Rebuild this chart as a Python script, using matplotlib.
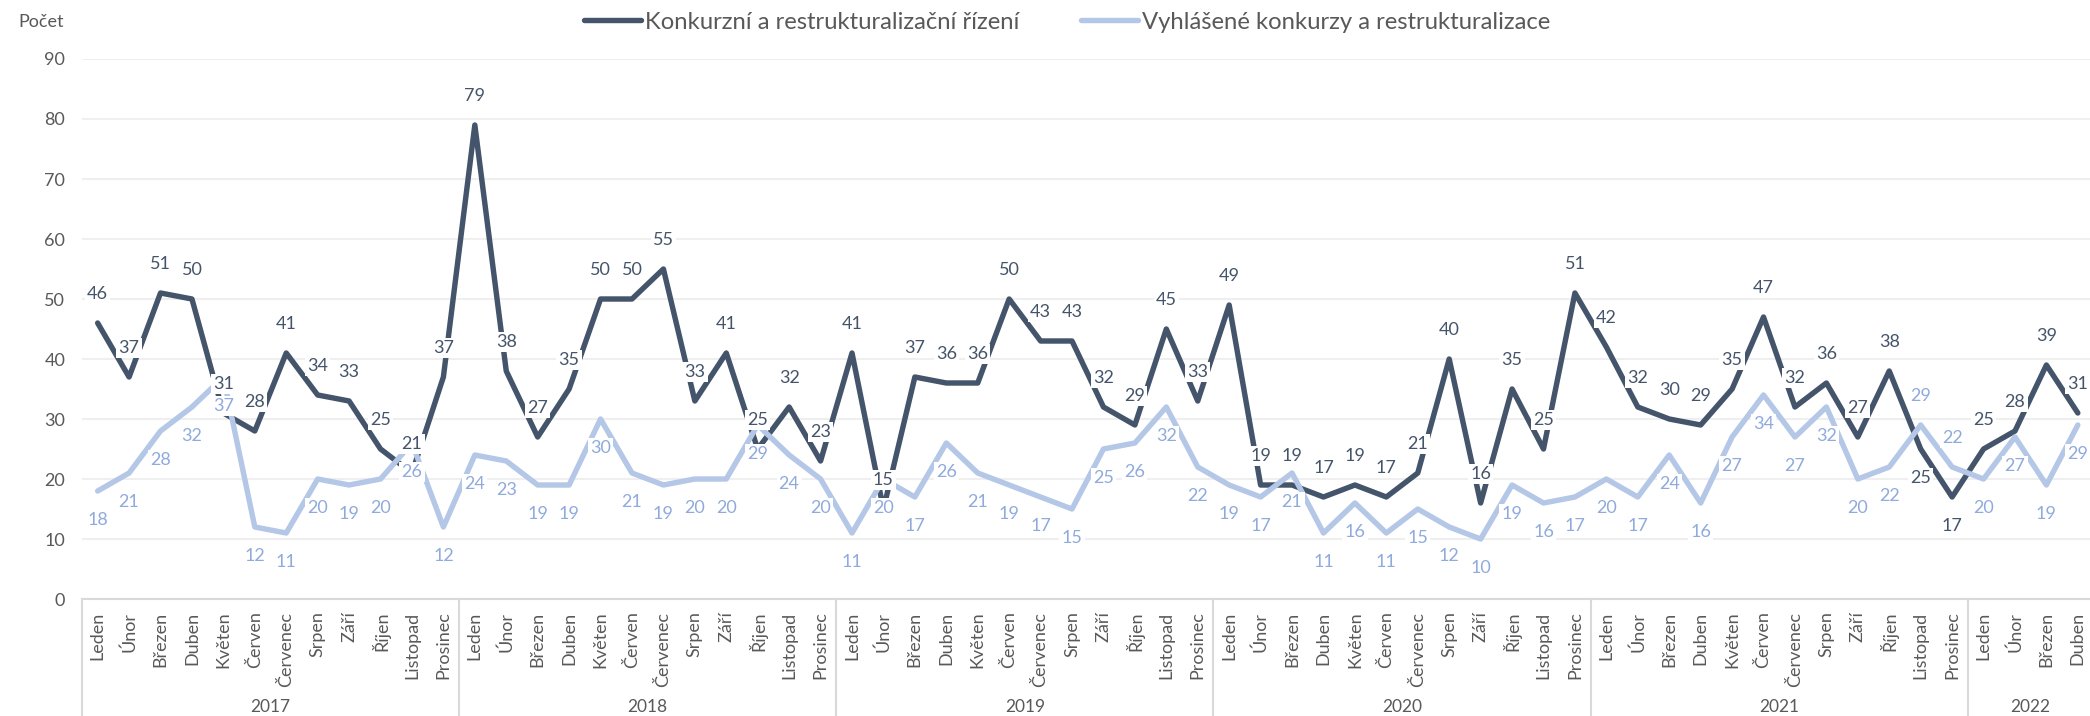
import matplotlib
matplotlib.use("Agg")
import matplotlib.pyplot as plt
import matplotlib.transforms as mtransforms
import numpy as np

plt.rcParams["font.family"] = ["Lato", "DejaVu Sans"]

months = ["Leden", "Únor", "Březen", "Duben", "Květen", "Červen", "Červenec",
          "Srpen", "Září", "Říjen", "Listopad", "Prosinec"]
years = ["2017", "2018", "2019", "2020", "2021", "2022"]
months_per_year = [12, 12, 12, 12, 12, 4]

rizeni = [46, 37, 51, 50, 31, 28, 41, 34, 33, 25, 21, 37,
          79, 38, 27, 35, 50, 50, 55, 33, 41, 25, 32, 23,
          41, 15, 37, 36, 36, 50, 43, 43, 32, 29, 45, 33,
          49, 19, 19, 17, 19, 17, 21, 40, 16, 35, 25, 51,
          42, 32, 30, 29, 35, 47, 32, 36, 27, 38, 25, 17,
          25, 28, 39, 31]
vyhlasene = [18, 21, 28, 32, 37, 12, 11, 20, 19, 20, 26, 12,
             24, 23, 19, 19, 30, 21, 19, 20, 20, 29, 24, 20,
             11, 20, 17, 26, 21, 19, 17, 15, 25, 26, 32, 22,
             19, 17, 21, 11, 16, 11, 15, 12, 10, 19, 16, 17,
             20, 17, 24, 16, 27, 34, 27, 32, 20, 22, 29, 22,
             20, 27, 19, 29]

# label placement exceptions (where the two lines cross)
dark_below = {58, 59}
light_above = {58, 59}

DARK = "#44546A"
LIGHT = "#B4C7E7"
LIGHT_TXT = "#8FAADC"
GRAY = "#595959"

tick_labels = [m for n in months_per_year for m in months[:n]]
x = np.arange(len(rizeni))

fig = plt.figure(figsize=(20.9, 7.16), dpi=100)
ax = fig.add_axes([0.0392, 0.1634, 0.9625, 0.7542])

ax.plot(x, rizeni, color=DARK, lw=3.9, solid_joinstyle="round",
        solid_capstyle="round", label="Konkurzní a restrukturalizační řízení", zorder=3)
ax.plot(x, vyhlasene, color=LIGHT, lw=3.9, solid_joinstyle="round",
        solid_capstyle="round", label="Vyhlášené konkurzy a restrukturalizace", zorder=4)

box = dict(boxstyle="square,pad=0.12", fc="white", ec="none")
for i in x:
    dy = -21 if i in dark_below else 21
    ax.annotate(str(rizeni[i]), (i, rizeni[i]), xytext=(0, dy), textcoords="offset points",
                ha="center", va="center", fontsize=13, color=DARK, bbox=box, zorder=6)
    dy = 21 if i in light_above else -21
    ax.annotate(str(vyhlasene[i]), (i, vyhlasene[i]), xytext=(0, dy), textcoords="offset points",
                ha="center", va="center", fontsize=13, color=LIGHT_TXT, bbox=box, zorder=6)

ax.set_xlim(-0.5, len(x) - 0.5)
ax.set_ylim(0, 90)
ax.set_yticks(range(0, 91, 10))
ax.yaxis.grid(True, color="#EFEFEF", lw=1.5)
ax.set_axisbelow(True)
for s in ["top", "right", "left"]:
    ax.spines[s].set_visible(False)
ax.spines["bottom"].set_color("#D9D9D9")
ax.spines["bottom"].set_linewidth(1.5)
ax.tick_params(axis="y", length=0, pad=12, labelsize=13, labelcolor=GRAY)
ax.set_xticks(x)
ax.set_xticklabels(tick_labels, rotation=90, va="top")
ax.tick_params(axis="x", length=0, pad=9, labelsize=13, labelcolor=GRAY)

# year grouping below the month labels
trans = mtransforms.blended_transform_factory(ax.transData, ax.transAxes)
start = 0
bounds = [start]
for yr, n in zip(years, months_per_year):
    ax.text(start + (n - 1) / 2, -0.2, yr, transform=trans, ha="center", va="center",
            fontsize=12.5, color=GRAY)
    start += n
    bounds.append(start)
for b in bounds:
    ax.plot([b - 0.5, b - 0.5], [0, -0.25], transform=trans, color="#D9D9D9",
            lw=1.5, clip_on=False)

fig.text(0.0086, 0.969, "Počet", ha="left", va="center", fontsize=13, color=GRAY)
fig.legend(loc="center", bbox_to_anchor=(0.5105, 0.969), ncol=2, frameon=False,
           fontsize=17.2, handlelength=2.4, handletextpad=0.15, columnspacing=2.6,
           labelcolor=GRAY)

fig.savefig("out.png", dpi=100)
